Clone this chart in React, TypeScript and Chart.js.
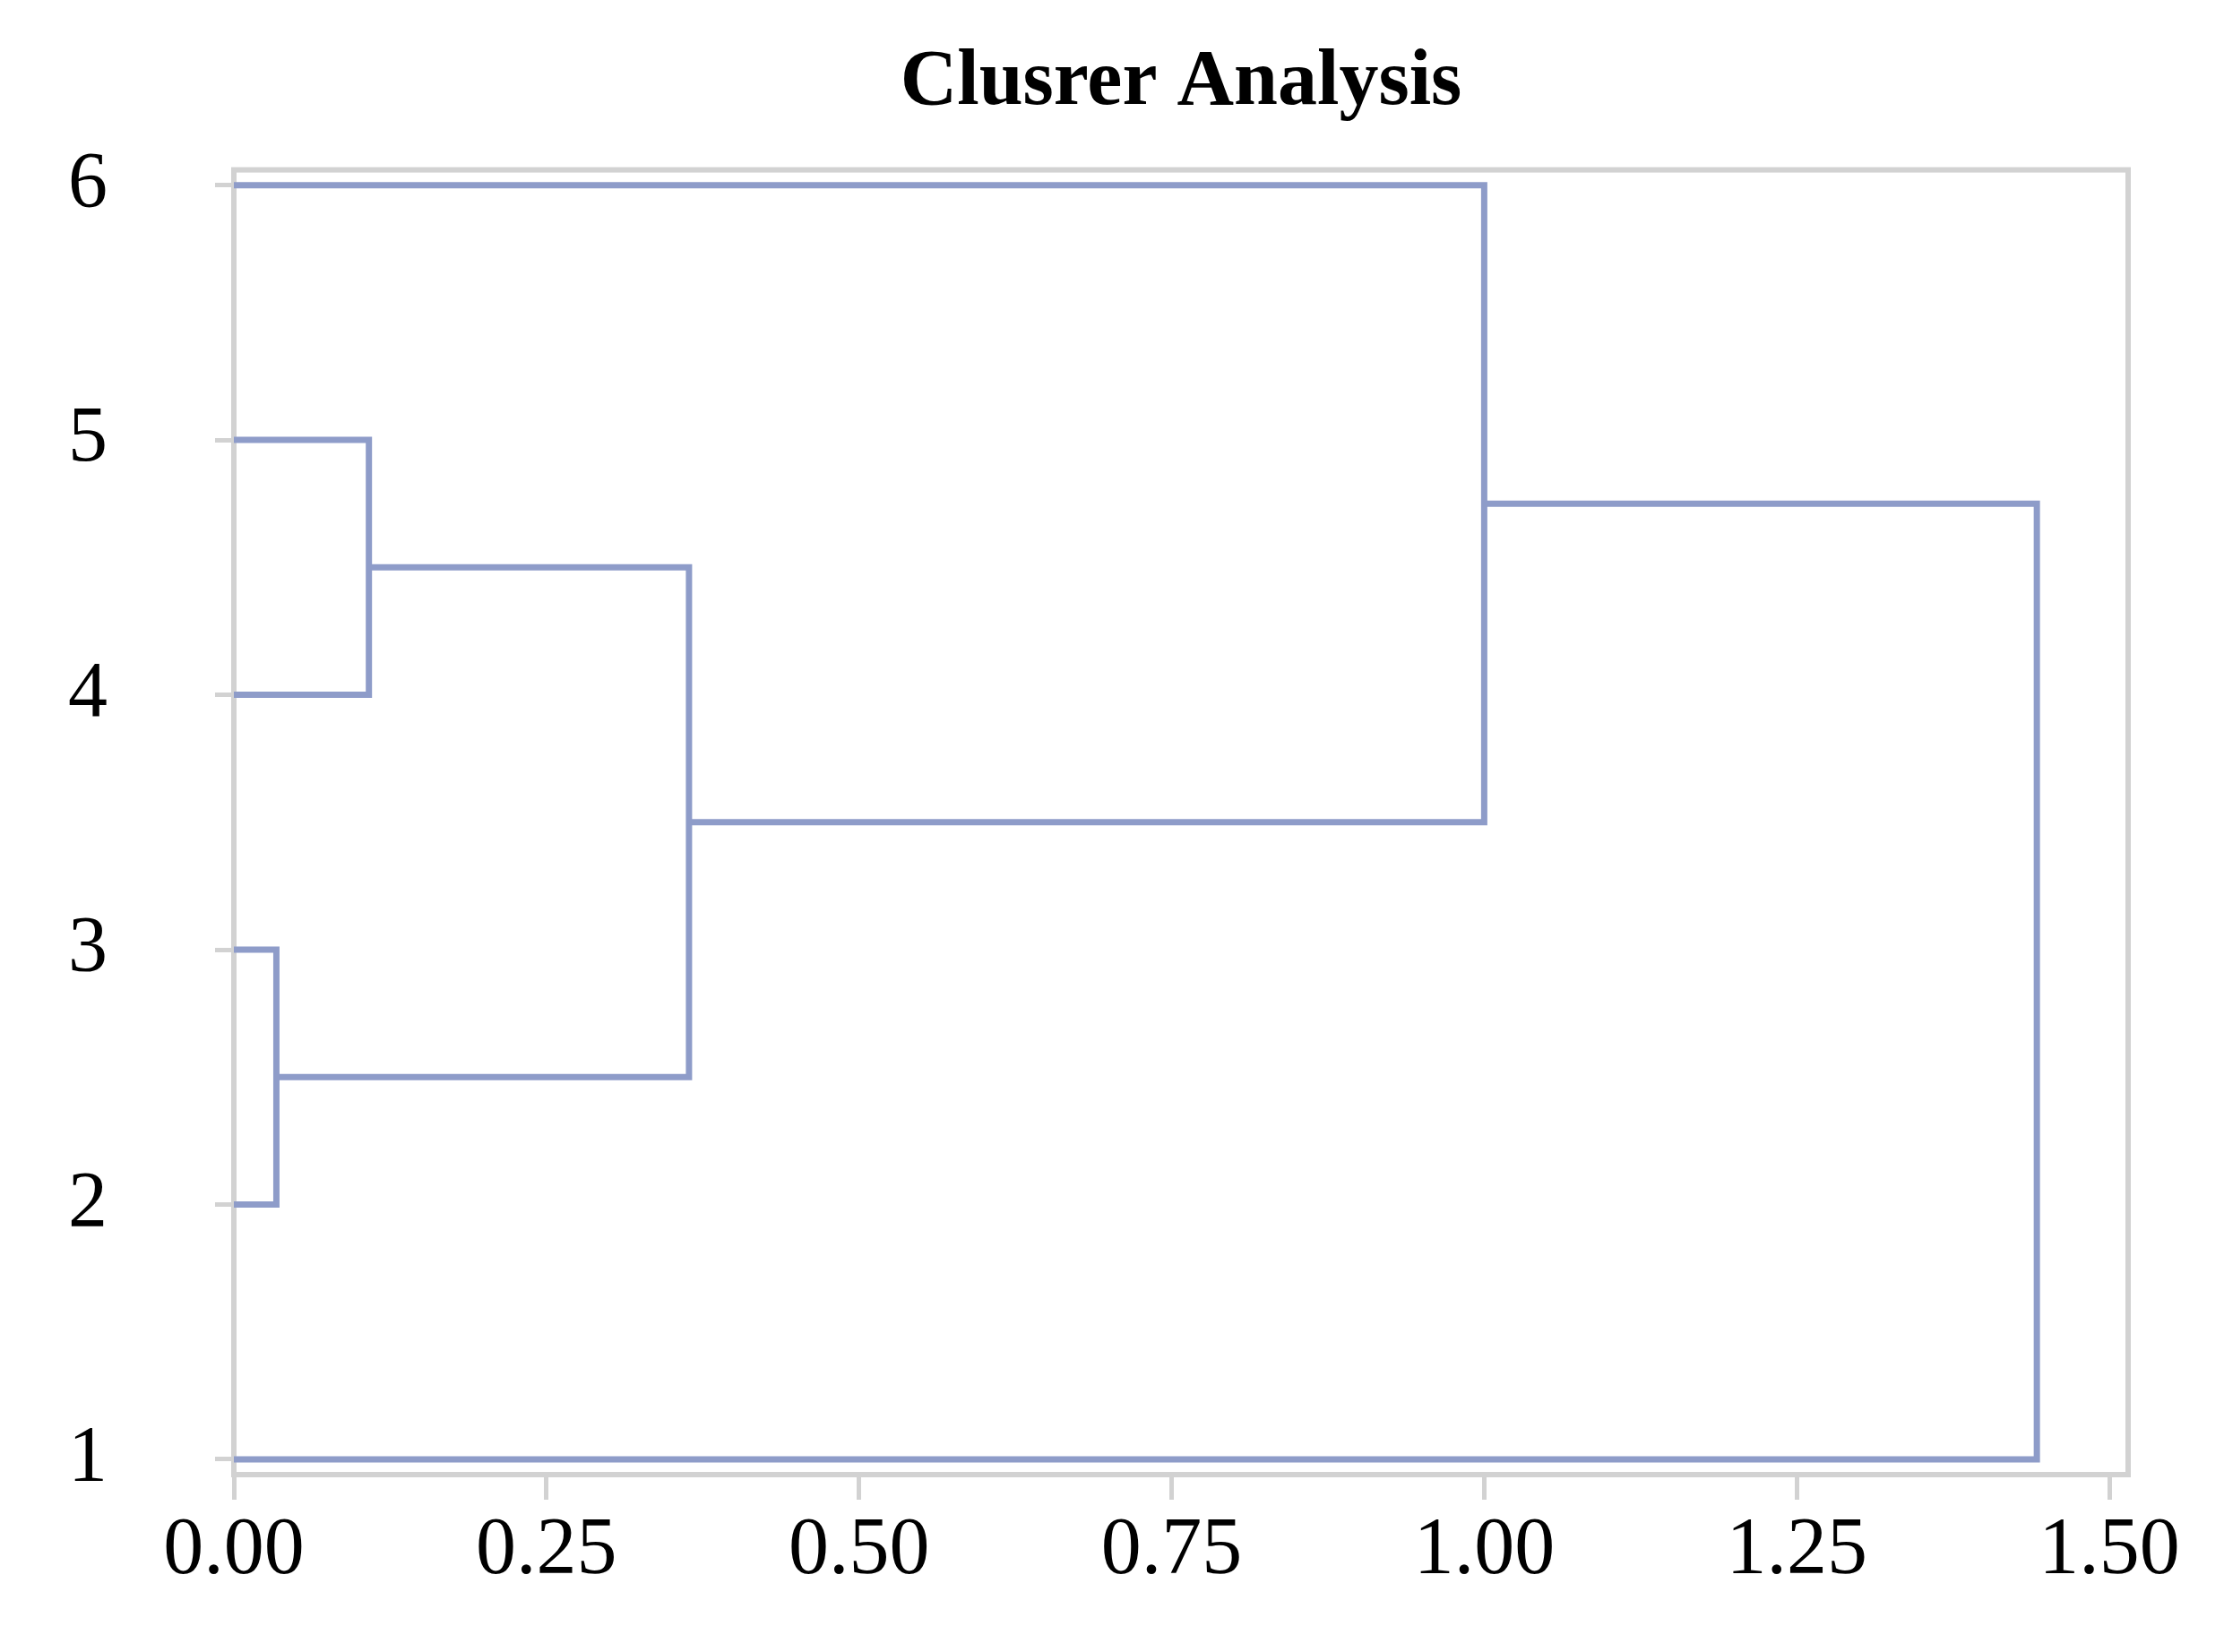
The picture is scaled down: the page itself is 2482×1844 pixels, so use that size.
import React, { useEffect, useRef } from 'react';
import { Chart, registerables } from 'chart.js';

Chart.register(...registerables);

// ---- data ----
const titleText = 'Clusrer Analysis';
const leafLabels = ['1', '2', '3', '4', '5', '6'];
const leafPositions = [1, 2, 3, 4, 5, 6];
// merges: node ids 1..6 are leaves, 7.. are clusters formed in order
const mergeFirst = [2, 4, 7, 9, 1];
const mergeSecond = [3, 5, 8, 6, 10];
const mergeHeight = [0.034, 0.108, 0.364, 1.0, 1.442];
const xTicks = [0, 0.25, 0.5, 0.75, 1.0, 1.25, 1.5];

function buildSegments() {
  const nx: Record<number, number> = {};
  const ny: Record<number, number> = {};
  leafPositions.forEach((p, i) => {
    nx[i + 1] = 0;
    ny[i + 1] = p;
  });
  return mergeHeight.map((h, k) => {
    const a = mergeFirst[k];
    const b = mergeSecond[k];
    const id = leafPositions.length + k + 1;
    nx[id] = h;
    ny[id] = (ny[a] + ny[b]) / 2;
    return [
      { x: nx[a], y: ny[a] },
      { x: h, y: ny[a] },
      { x: h, y: ny[b] },
      { x: nx[b], y: ny[b] },
    ];
  });
}

const framePlugin = {
  id: 'frame',
  beforeDatasetsDraw(chart: any) {
    const { ctx, chartArea } = chart;
    const { left, top, right, bottom } = chartArea;
    ctx.save();
    ctx.strokeStyle = '#d2d2d2';
    ctx.lineWidth = 6;
    ctx.strokeRect(left, top, right - left, bottom - top);
    ctx.restore();
  },
};

export default function App() {
  const ref = useRef<HTMLCanvasElement>(null);
  useEffect(() => {
    if (!ref.current) return;
    const segs = buildSegments();
    const chart = new Chart(ref.current, {
      type: 'scatter',
      data: {
        datasets: segs.map((s) => ({
          data: s,
          showLine: true,
          borderColor: '#8e9cc9',
          borderWidth: 7,
          pointRadius: 0,
          tension: 0,
          fill: false,
        })),
      },
      options: {
        animation: false,
        responsive: true,
        maintainAspectRatio: false,
        layout: { padding: { left: 0, right: 99, top: 0, bottom: 0 } },
        plugins: {
          legend: { display: false },
          tooltip: { enabled: false },
          title: {
            display: true,
            fullSize: false,
            text: titleText,
            color: '#000',
            font: { family: '"Liberation Serif", "Times New Roman", serif', size: 88, weight: 'bold' },
            padding: { top: 32, bottom: 44 },
          },
        },
        scales: {
          x: {
            type: 'linear',
            min: 0,
            max: 1.515,
            afterBuildTicks: (scale: any) => {
              scale.ticks = xTicks.map((v) => ({ value: v }));
            },
            afterFit: (scale: any) => {
              scale.height = 190;
            },
            border: { display: false },
            grid: {
              drawOnChartArea: false,
              drawTicks: true,
              tickLength: 28,
              color: '#d2d2d2',
              lineWidth: 5,
            },
            ticks: {
              color: '#000',
              padding: 4,
              maxRotation: 0,
              font: { family: '"Liberation Serif", "Times New Roman", serif', size: 90 },
              callback: (v: any) => Number(v).toFixed(2),
            },
          },
          y: {
            type: 'linear',
            min: 0.94,
            max: 6.06,
            afterBuildTicks: (scale: any) => {
              scale.ticks = leafPositions.map((v) => ({ value: v }));
            },
            afterFit: (scale: any) => {
              scale.width = 253;
            },
            border: { display: false },
            grid: {
              drawOnChartArea: false,
              drawTicks: true,
              tickLength: 21,
              color: '#d2d2d2',
              lineWidth: 5,
            },
            ticks: {
              color: '#000',
              padding: 120,
              font: { family: '"Liberation Serif", "Times New Roman", serif', size: 88 },
              callback: (v: any) => {
                const i = leafPositions.indexOf(Number(v));
                return i >= 0 ? leafLabels[i] : '';
              },
            },
          },
        },
      },
      plugins: [framePlugin],
    });
    return () => chart.destroy();
  }, []);
  return (
    <div style={{ width: '2466px', height: '1828px', position: 'relative' }}>
      <canvas ref={ref} />
    </div>
  );
}
